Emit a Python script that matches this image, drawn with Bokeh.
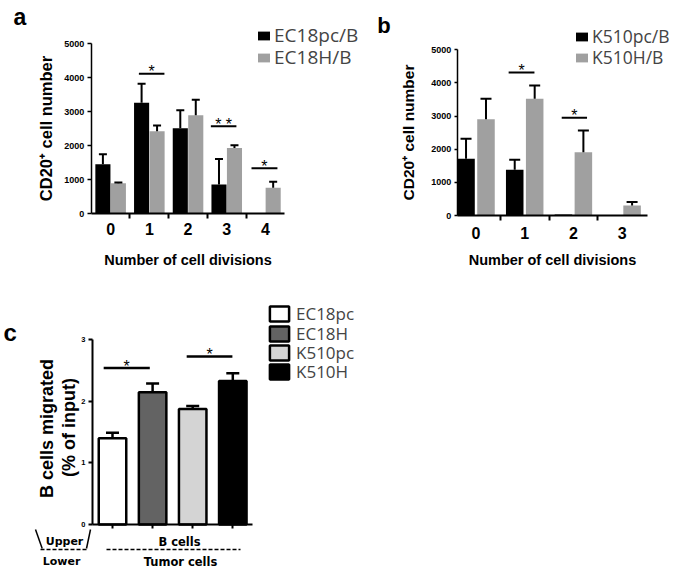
import numpy as np
from bokeh.plotting import figure
from bokeh.layouts import row, column
from bokeh.models import (Range1d, FixedTicker, ColumnDataSource, Whisker, TeeHead,
                          Label, Legend, LegendItem, Arrow)
from bokeh.core.properties import value
from bokeh.embed import file_html
from bokeh.resources import INLINE

# ---------------- data ----------------
# panel a
a_divisions = ["0", "1", "2", "3", "4"]
a_series = ["EC18pc/B", "EC18H/B"]
a_pc_mean = [1460, 3265, 2520, 865, 0]
a_pc_err = [295, 560, 530, 745, 0]
a_h_mean = [900, 2430, 2900, 1940, 765]
a_h_err = [22, 170, 460, 80, 176]
a_yticks = [0, 1000, 2000, 3000, 4000, 5000]
a_sig_x0 = [0.73, 2.59, 3.64]
a_sig_x1 = [1.39, 3.25, 4.31]
a_sig_y = [4120, 2580, 1340]
a_sig_text = ["*", "* *", "*"]

# panel b
b_divisions = ["0", "1", "2", "3"]
b_series = ["K510pc/B", "K510H/B"]
b_pc_mean = [1710, 1380, 30, 0]
b_pc_err = [605, 300, 0, 0]
b_h_mean = [2905, 3520, 1910, 300]
b_h_err = [615, 405, 655, 110]
b_yticks = [0, 1000, 2000, 3000, 4000, 5000]
b_sig_x0 = [0.67, 1.76]
b_sig_x1 = [1.20, 2.28]
b_sig_y = [4315, 2950]
b_sig_text = ["*", "*"]

# panel c
c_groups = ["EC18pc", "EC18H", "K510pc", "K510H"]
c_mean = [1.40, 2.15, 1.875, 2.33]
c_err = [0.09, 0.14, 0.05, 0.125]
c_colors = ["#ffffff", "#636363", "#d4d4d4", "#000000"]
c_yticks = [0, 1, 2, 3]
c_sig_x0 = [-0.22, 1.85]
c_sig_x1 = [0.93, 2.99]
c_sig_y = [2.54, 2.73]
c_sig_text = ["*", "*"]

BLACK = "#000000"
GRAY = "#a0a0a0"
AX_FONT = "Liberation Sans"
LEG_FONT = "Open Sans"


def base_fig(width, height, xr, yr):
    # the frame fills the whole canvas; axes are pinned inside it
    p = figure(width=width, height=height, x_range=Range1d(*xr), y_range=Range1d(*yr),
               output_backend="svg", toolbar_location=None, tools="",
               min_border_left=0, min_border_right=0, min_border_top=0, min_border_bottom=0)
    p.grid.visible = False
    p.outline_line_color = None
    return p


def cfg_axis(ax, size, lw, tick_out, standoff):
    ax.axis_line_width = lw
    ax.axis_line_color = BLACK
    ax.major_tick_line_width = lw
    ax.minor_tick_line_width = lw
    ax.major_tick_line_color = BLACK
    ax.minor_tick_line_color = BLACK
    ax.major_tick_out = tick_out
    ax.major_tick_in = 0
    ax.minor_tick_in = 0
    ax.minor_tick_out = 0
    ax.major_label_text_font = AX_FONT
    ax.major_label_text_font_style = "bold"
    ax.major_label_text_font_size = size
    ax.major_label_text_color = BLACK
    ax.major_label_standoff = standoff
    ax.axis_label_text_font = AX_FONT
    ax.axis_label_text_font_style = "bold"
    ax.axis_label_text_color = BLACK


def add_err(p, x, mean, err, size, lw):
    x = np.asarray(x, float)
    mean = np.asarray(mean, float)
    err = np.asarray(err, float)
    m = err > 0
    src = ColumnDataSource(dict(base=x[m], lower=mean[m], upper=(mean + err)[m]))
    p.add_layout(Whisker(source=src, base="base", lower="lower", upper="upper",
                         line_width=lw, line_color=BLACK, level="overlay",
                         upper_head=TeeHead(size=size, line_width=lw, line_color=BLACK),
                         lower_head=None))


def add_sig(p, x0, x1, y, texts, lw, font_size, yoff):
    x0 = np.asarray(x0, float)
    x1 = np.asarray(x1, float)
    p.segment(x0=x0, y0=y, x1=x1, y1=y, line_width=lw, line_color=BLACK)
    p.text(x=(x0 + x1) / 2, y=y, text=texts, text_align="center", text_baseline="alphabetic",
           y_offset=yoff, text_font=value(AX_FONT), text_font_size=font_size, text_color=BLACK)


def add_leg(p, label, rend, index, sx, sy, gw, gh, lh, fsize, standoff):
    leg = Legend(items=[LegendItem(label=label, renderers=[rend], index=index)],
                 location=(round(sx), round(sy)), glyph_width=gw, glyph_height=gh,
                 label_height=lh, label_standoff=standoff, label_text_font=LEG_FONT,
                 label_text_font_size=fsize, padding=0, margin=0, spacing=0,
                 background_fill_alpha=0, border_line_alpha=0)
    p.add_layout(leg)


def lab(p, text, sx, sy, size, bold=True, align="left", baseline="alphabetic", angle=0.0,
        font=AX_FONT):
    p.add_layout(Label(x=sx, y=sy, x_units="screen", y_units="screen", text=text,
                       text_font=font, text_font_style="bold" if bold else "normal",
                       text_font_size=size, text_align=align, text_baseline=baseline,
                       angle=angle, text_color=BLACK))


# ---------------- panel a ----------------  canvas (0,0)-(358,272)
AX0, AH = 0, 272
fa = base_fig(358, AH, (-2.846, 6.405), (-1727, 6277))
xa = np.arange(len(a_divisions), dtype=float)
ra1 = fa.vbar(x=xa - 0.2, top=a_pc_mean, width=0.39, fill_color=BLACK, line_color=None)
ra2 = fa.vbar(x=xa + 0.2, top=a_h_mean, width=0.39, fill_color=GRAY, line_color=None)
add_err(fa, xa - 0.2, a_pc_mean, a_pc_err, 8, 2)
add_err(fa, xa + 0.2, a_h_mean, a_h_err, 8, 2)
add_sig(fa, a_sig_x0, a_sig_x1, a_sig_y, a_sig_text, 2, "16px", -2)

fa.xaxis.ticker = FixedTicker(ticks=list(xa), minor_ticks=list(xa[:-1] + 0.5))
fa.xaxis.major_label_overrides = {float(i): t for i, t in zip(xa, a_divisions)}
fa.xaxis.bounds = (-0.5, 4.5)
fa.xaxis.fixed_location = 0
cfg_axis(fa.xaxis[0], "16px", 2, 0, 4)
fa.xaxis.minor_tick_out = 5
fa.xaxis.axis_label = "Number of cell divisions"
fa.xaxis.axis_label_text_font_size = "14.5px"
fa.xaxis.axis_label_standoff = 14

fa.yaxis.ticker = FixedTicker(ticks=a_yticks)
fa.yaxis.bounds = (0, 5000)
fa.yaxis.fixed_location = -0.5
cfg_axis(fa.yaxis[0], "9px", 1.5, 4, 3)
fa.yaxis.axis_label = "CD20\u207a cell number"
fa.yaxis.axis_label_text_font_size = "16.5px"
fa.yaxis.axis_label_standoff = 6

add_leg(fa, a_series[0], ra1, None, 255.8 - AX0, AH - (36 + 12), 15, 11, 24, "19px", 3)
add_leg(fa, a_series[1], ra2, None, 255.8 - AX0, AH - (57.5 + 12), 15, 11, 24, "19px", 3)
lab(fa, "a", 13 - AX0, AH - 16, "23px")

# ---------------- panel b ----------------  canvas (358,0)-(676,272)
BX0, BH = 358, 272
fb = base_fig(318, BH, (-2.413, 4.117), (-1720, 6488))
xb = np.arange(len(b_divisions), dtype=float)
rb1 = fb.vbar(x=xb - 0.205, top=b_pc_mean, width=0.36, fill_color=BLACK, line_color=None)
rb2 = fb.vbar(x=xb + 0.205, top=b_h_mean, width=0.36, fill_color=GRAY, line_color=None)
add_err(fb, xb - 0.205, b_pc_mean, b_pc_err, 11, 2)
add_err(fb, xb + 0.205, b_h_mean, b_h_err, 11, 2)
add_sig(fb, b_sig_x0, b_sig_x1, b_sig_y, b_sig_text, 2, "16px", -2)

fb.xaxis.ticker = FixedTicker(ticks=list(xb), minor_ticks=list(xb[:-1] + 0.5))
fb.xaxis.major_label_overrides = {float(i): t for i, t in zip(xb, b_divisions)}
fb.xaxis.bounds = (-0.386, 3.52)
fb.xaxis.fixed_location = 0
cfg_axis(fb.xaxis[0], "16px", 2, 0, 6)
fb.xaxis.minor_tick_out = 5
fb.xaxis.axis_label = "Number of cell divisions"
fb.xaxis.axis_label_text_font_size = "14.5px"
fb.xaxis.axis_label_standoff = 10

fb.yaxis.ticker = FixedTicker(ticks=b_yticks)
fb.yaxis.bounds = (0, 5000)
fb.yaxis.fixed_location = -0.386
cfg_axis(fb.yaxis[0], "9px", 1.5, 3, 3)
fb.yaxis.axis_label = "CD20\u207a cell number"
fb.yaxis.axis_label_text_font_size = "15.5px"
fb.yaxis.axis_label_standoff = 11

add_leg(fb, b_series[0], rb1, None, 574.5 - BX0, BH - (35.5 + 12), 15, 11, 24, "17.5px", 3)
add_leg(fb, b_series[1], rb2, None, 574.5 - BX0, BH - (57 + 12), 15, 11, 24, "17.5px", 3)
lab(fb, "b", 376.7 - BX0, BH - 25, "22px")

# ---------------- panel c ----------------  canvas (0,272)-(676,567)
CX0, CY0, CH = 0, 272, 295
fc = base_fig(676, CH, (-2.793, 14.065), (-0.698, 4.093))
xc = np.arange(len(c_groups), dtype=float)
csrc = ColumnDataSource(dict(x=xc, top=c_mean, color=c_colors, name=c_groups))
rc = fc.vbar(x="x", top="top", width=0.686, source=csrc, fill_color="color",
             line_color=BLACK, line_width=2.5)
add_err(fc, xc, c_mean, c_err, 13, 2.5)
add_sig(fc, c_sig_x0, c_sig_x1, c_sig_y, c_sig_text, 2.5, "16px", -2)

fc.xaxis.ticker = FixedTicker(ticks=list(xc))
fc.xaxis.bounds = (-0.5, 3.5)
fc.xaxis.fixed_location = 0
cfg_axis(fc.xaxis[0], "0px", 2, 4, 0)
fc.yaxis.ticker = FixedTicker(ticks=c_yticks)
fc.yaxis.bounds = (0, 3)
fc.yaxis.fixed_location = -0.5
cfg_axis(fc.yaxis[0], "7.5px", 2, 4, 3)


def csy(ry):
    return CY0 + CH - ry


for i, g in enumerate(c_groups):
    cy = [313, 333, 352, 371][i]
    add_leg(fc, g, rc, i, 266.9 - CX0, csy(cy + 12), 24, 19, 24, "17px", 5)

lab(fc, "B cells migrated", 46.7, csy(428), "18px", align="center", baseline="middle",
    angle=np.pi / 2)
lab(fc, "(% of input)", 68.3, csy(427), "18px", align="center", baseline="middle",
    angle=np.pi / 2)
lab(fc, "c", 3, csy(332), "24px")

# bottom annotation (Upper/Lower chamber)
LB = "DejaVu Sans"
lab(fc, "Upper", 64, csy(541), "11px", align="center", baseline="middle", font=LB)
lab(fc, "B cells", 179, csy(541), "11.5px", align="center", baseline="middle", font=LB)
lab(fc, "Lower", 61, csy(561), "11px", align="center", baseline="middle", font=LB)
lab(fc, "Tumor cells", 180, csy(561), "11.5px", align="center", baseline="middle", font=LB)
for (x0, y0, x1, y1, dash) in [(40, 549, 87.3, 549, "4 2"), (106, 549, 240, 549, "4 2"),
                               (35, 529, 41.7, 548, "solid"), (90, 529, 86, 548, "solid")]:
    fc.add_layout(Arrow(x_start=x0, y_start=csy(y0), x_end=x1, y_end=csy(y1),
                        start_units="screen", end_units="screen", start=None, end=None,
                        line_width=1.5, line_color=BLACK, line_dash=dash))

layout = column(row(fa, fb), fc)
open("out.html", "w").write(file_html(layout, INLINE))
